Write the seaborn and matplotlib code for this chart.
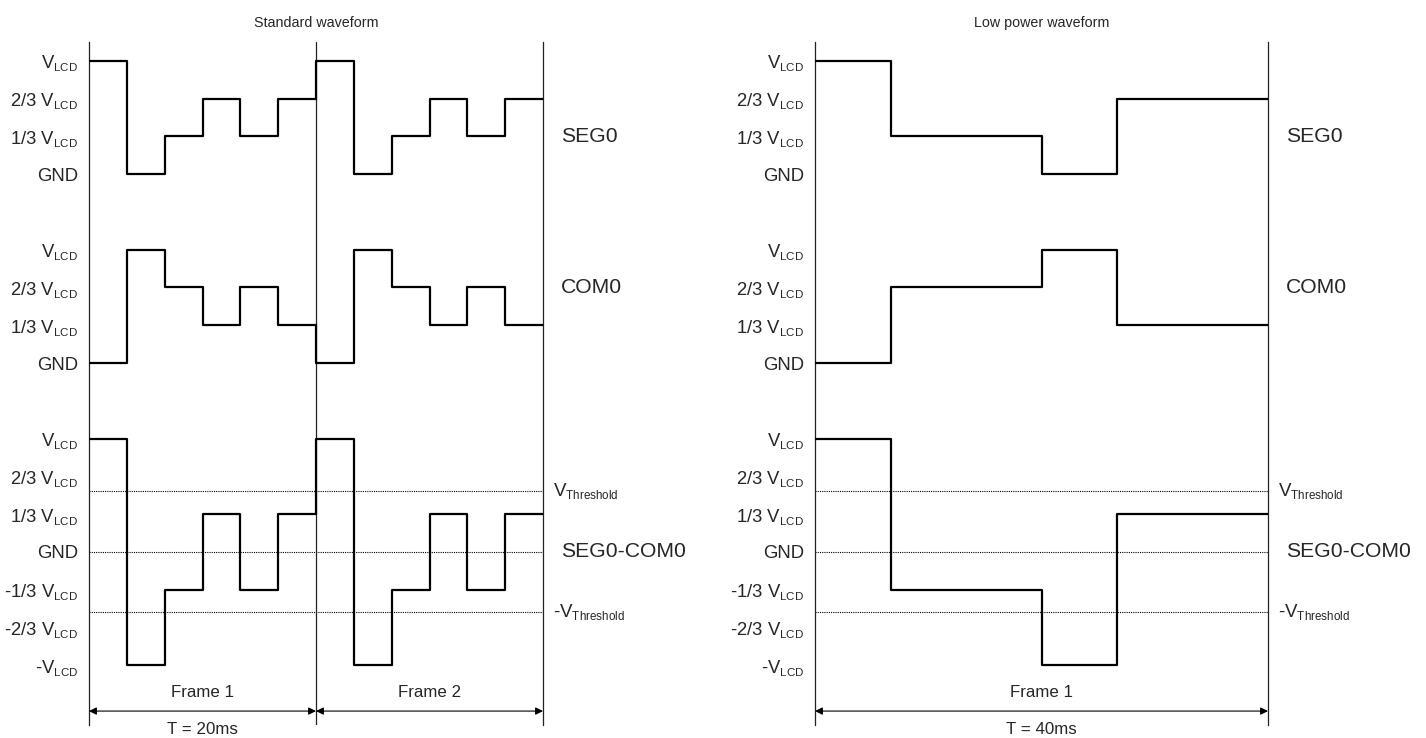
import numpy as np
import pandas as pd
import matplotlib
matplotlib.use("Agg")
import matplotlib.pyplot as plt
import seaborn as sns
import matplotlib._mathtext as _mt

_mt.SHRINK_FACTOR = 0.62

# ---------------- data ----------------
# levels are expressed in thirds of V_LCD
std_edges_ms = [0.0, 3.33, 6.67, 10.0, 13.33, 16.67, 20.0, 23.33, 26.67, 30.0, 33.33, 36.67, 40.0]
std_seg0 = [3, 0, 1, 2, 1, 2, 3, 0, 1, 2, 1, 2]
std_com0 = [0, 3, 2, 1, 2, 1, 0, 3, 2, 1, 2, 1]

lp_edges_ms = [0.0, 6.67, 20.0, 26.67, 40.0]
lp_seg0 = [3, 1, 0, 2]
lp_com0 = [0, 2, 3, 1]

threshold = 1.6  # in thirds of V_LCD

row_offsets = {"SEG0": 10, "COM0": 5, "SEG0-COM0": 0}

pos_labels = [r"$\mathregular{V_{LCD}}$", r"2/3 $\mathregular{V_{LCD}}$",
              r"1/3 $\mathregular{V_{LCD}}$", "GND"]
diff_labels = [r"$\mathregular{V_{LCD}}$", r"2/3 $\mathregular{V_{LCD}}$",
               r"1/3 $\mathregular{V_{LCD}}$", "GND",
               r"-1/3 $\mathregular{V_{LCD}}$", r"-2/3 $\mathregular{V_{LCD}}$",
               r"-$\mathregular{V_{LCD}}$"]

frame_std = [("Frame 1", 0.0, 20.0), ("Frame 2", 20.0, 40.0)]
frame_lp = [("Frame 1", 0.0, 40.0)]
period_std = "T = 20ms"
period_lp = "T = 40ms"
titles = ["Standard waveform", "Low power waveform"]

# ---------------- style ----------------
sns.set_theme(style="white")
plt.rcParams["font.family"] = ["Liberation Sans", "DejaVu Sans"]
plt.rcParams["mathtext.fontset"] = "custom"
plt.rcParams["mathtext.rm"] = "Liberation Sans"
plt.rcParams["mathtext.default"] = "regular"

W, H = 1426, 738
fig = plt.figure(figsize=(W / 100, H / 100), dpi=100)
fig.patch.set_facecolor("white")

ybot, ytop = -4.589, 13.503
ax_bottom = (H - 725) / H
ax_height = (725 - 42) / H
axes = [fig.add_axes([89 / W, ax_bottom, 454 / W, ax_height]),
        fig.add_axes([815 / W, ax_bottom, 453 / W, ax_height])]


def build(edges, seg, com):
    seg = np.asarray(seg)
    com = np.asarray(com)
    diff = seg - com
    rows = []
    for name, vals in (("SEG0", seg), ("COM0", com), ("SEG0-COM0", diff)):
        vv = list(vals) + [vals[-1]]
        for t, v in zip(edges, vv):
            rows.append({"t": t, "y": v + row_offsets[name], "signal": name})
    return pd.DataFrame(rows)


panels = [
    (build(std_edges_ms, std_seg0, std_com0), frame_std, period_std),
    (build(lp_edges_ms, lp_seg0, lp_com0), frame_lp, period_lp),
]

tick_pos = [13, 12, 11, 10, 8, 7, 6, 5, 3, 2, 1, 0, -1, -2, -3]
tick_lab = pos_labels + pos_labels + diff_labels

for ax, (df, frames, period), title in zip(axes, panels, titles):
    # dotted reference lines in the difference trace
    for yv in (threshold, 0, -threshold):
        ax.axhline(yv, color="black", lw=0.8, ls=(0, (1, 1)), zorder=1)

    sns.lineplot(data=df, x="t", y="y", units="signal", estimator=None,
                 sort=False, drawstyle="steps-post", color="black",
                 lw=1.6, ax=ax, zorder=3)

    ax.set_xlim(0, 40)
    ax.set_ylim(ybot, ytop)
    ax.set_xlabel("")
    ax.set_ylabel("")
    ax.set_xticks([])
    ax.set_yticks(tick_pos)
    ax.set_yticklabels(tick_lab, fontsize=13.3)
    ax.tick_params(axis="y", length=0, pad=8)
    for s in ("top", "bottom"):
        ax.spines[s].set_visible(False)
    for s in ("left", "right"):
        ax.spines[s].set_color("#222222")
        ax.spines[s].set_linewidth(0.9)
    ax.set_facecolor("none")

    # frame boundaries, arrows and labels
    for name, x0, x1 in frames:
        if x0 > 0:
            ax.axvline(x0, color="#222222", lw=0.9, zorder=2)
        ax.annotate("", xy=(x0, -4.22), xytext=(x1, -4.22),
                    arrowprops=dict(arrowstyle="<|-|>", color="black", lw=0.8,
                                    shrinkA=0, shrinkB=0, mutation_scale=11),
                    annotation_clip=False)
        ax.text((x0 + x1) / 2, -3.72, name, ha="center", va="center",
                fontsize=12.2)
    x0, x1 = frames[0][1], frames[0][2]
    ax.text((x0 + x1) / 2, -4.7, period, ha="center", va="center",
            fontsize=12.2, clip_on=False)

    # right-hand labels
    for txt, yv in (("SEG0", 11), ("COM0", 7), ("SEG0-COM0", 0)):
        ax.annotate(txt, xy=(1, yv), xycoords=("axes fraction", "data"),
                    xytext=(13, 0), textcoords="offset points",
                    ha="left", va="center", fontsize=15.2,
                    annotation_clip=False)
    for txt, yv in ((r"$\mathregular{V_{Threshold}}$", threshold),
                    (r"-$\mathregular{V_{Threshold}}$", -threshold)):
        ax.annotate(txt, xy=(1, yv), xycoords=("axes fraction", "data"),
                    xytext=(7, 0), textcoords="offset points",
                    ha="left", va="center", fontsize=13.5,
                    annotation_clip=False)

    ax.set_title(title, fontsize=10.3, pad=11)

fig.savefig("out.png", dpi=100, facecolor="white")
